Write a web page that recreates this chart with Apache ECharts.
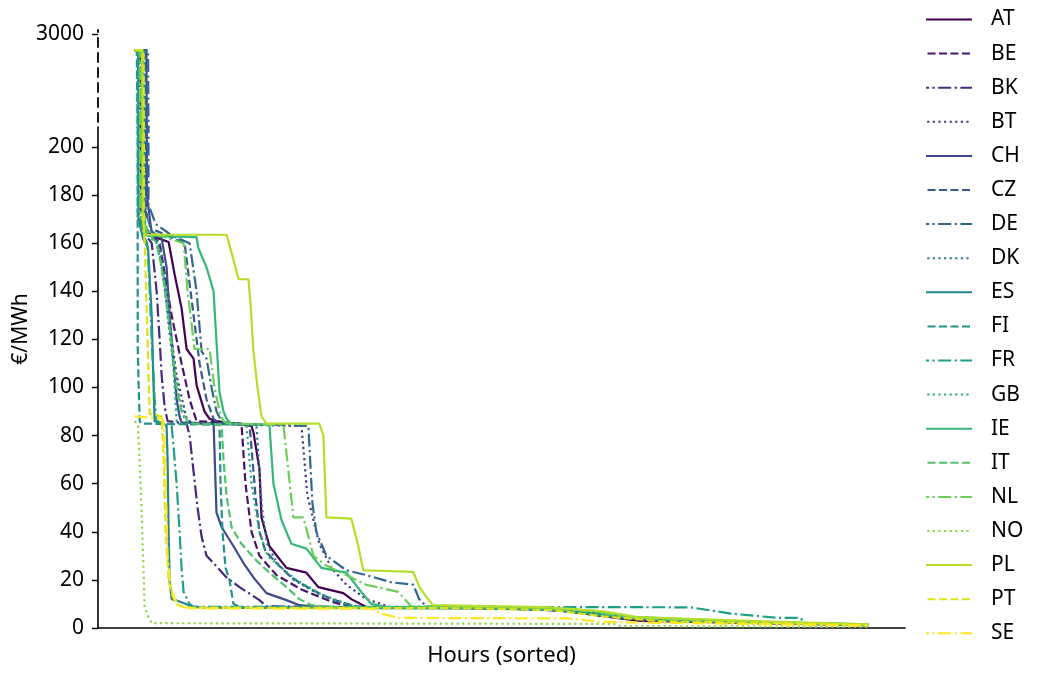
<!DOCTYPE html>
<html>
<head>
<meta charset="utf-8">
<script src="https://cdn.jsdelivr.net/npm/echarts@6/dist/echarts.min.js"></script>
<style>html,body{margin:0;padding:0;background:#fff}#c{width:1037px;height:677px}</style>
</head>
<body>
<div id="c"></div>
<script>
// ---- data: [hour (sorted rank), price €/MWh] ----
const countries = ['AT','BE','BK','BT','CH','CZ','DE','DK','ES','FI','FR','GB','IE','IT','NL','NO','PL','PT','SE'];
const AT = [[0,2550],[95,2550],[100,178],[119,167],[203,163],[405,160.5],[477,147],[560,133],[620,116],[703,112],[739,101],[799,94],[834,90],[894,87],[977,86],[1395,84],[1420,81],[1490,66],[1514,46],[1609,34],[1812,25],[2050,23],[2193,17],[2491,14.5],[2587,12],[2765,8.7],[4374,8.3],[5090,7.2],[5700,4.5],[6000,3],[7000,2.4],[8760,1.2]];
const BE = [[0,2550],[70,2550],[75,172],[140,165],[298,160],[441,130],[560,110],[656,95],[739,86],[1275,85],[1323,60],[1395,40],[1490,30],[1693,22],[1991,16],[2348,11],[2587,8.6],[4500,8.4],[5200,7.0],[5750,4.2],[6500,2.8],[8760,1.3]];
const BK = [[0,2550],[50,2550],[55,170],[140,163],[203,160],[262,140],[298,120],[322,105],[358,92],[393,86],[620,85],[656,80],[703,65],[751,50],[799,38],[858,30],[942,27],[1097,21],[1252,17],[1490,11.6],[1573,9],[4200,8.2],[5000,7.5],[5600,5.2],[6200,3.2],[8760,1.4]];
const BT = [[0,2550],[110,2550],[115,175],[200,165],[286,160],[381,135],[501,105],[620,87],[700,85],[1991,84],[2014,75],[2062,55],[2205,35],[2348,25],[2527,18],[2765,12],[3063,8.6],[4600,8.4],[5300,6.8],[5800,4.0],[7000,2.2],[8760,1.1]];
const CH = [[0,2550],[140,2550],[145,180],[200,165],[322,162],[381,150],[417,130],[465,110],[501,95],[536,88],[560,85.5],[942,85],[977,48],[1037,42],[1180,34],[1299,27],[1418,21],[1573,14.5],[1812,11.6],[1967,9.5],[2229,8.6],[4300,8.3],[5100,7.3],[5700,4.8],[6300,3.0],[8760,1.2]];
const CZ = [[0,2550],[130,2550],[135,172],[200,166],[400,163],[596,160],[703,130],[775,110],[858,95],[942,87],[1000,85],[1371,84.5],[1395,75],[1442,55],[1490,40],[1561,32],[1693,27],[1871,21],[2110,16],[2348,12],[2646,9],[2825,8.6],[4700,8.5],[5400,7.0],[5900,4.3],[7200,2.6],[8760,1.3]];
const DE = [[0,2550],[160,2550],[165,176],[250,168],[450,163],[656,160],[739,140],[799,115],[858,112],[918,100],[977,90],[1037,86],[1100,85],[2074,84],[2122,52],[2169,40],[2289,30],[2527,24],[2765,22],[3063,19],[3326,18],[3397,12],[3481,9],[4800,8.5],[5500,6.5],[5900,4.0],[7500,2.4],[8760,1.0]];
const DK = [[0,2550],[120,2550],[125,175],[200,165],[298,160],[346,150],[393,130],[441,115],[489,105],[536,95],[596,87],[679,85],[1454,84.5],[1480,70],[1520,50],[1580,35],[1700,27],[1900,20],[2200,14],[2500,10],[2700,8.6],[4400,8.4],[5300,7.2],[5850,4.6],[7000,2.8],[8760,1.4]];
const ES = [[0,2550],[40,2550],[45,170],[100,162],[160,158],[203,130],[226,100],[238,86],[322,85],[381,84],[393,70],[405,40],[417,20],[441,12],[536,11],[679,9],[799,8.5],[4000,8.2],[5000,7.6],[5600,5.5],[6500,3.2],[8760,1.5]];
const FI = [[0,2550],[25,2550],[36,117],[48,100],[60,86],[80,85],[1013,84.5],[1025,60],[1049,40],[1085,25],[1132,20],[1180,10],[1275,8.6],[4100,8.3],[5000,7.6],[5650,5.0],[6400,3.0],[8760,1.3]];
const FR = [[0,2550],[75,2550],[80,165],[150,160],[167,150],[203,120],[238,95],[262,86],[441,84],[465,75],[501,60],[536,40],[560,25],[584,15],[656,10],[703,8.8],[5209,8.7],[6639,8.6],[7116,6],[7676,4.2],[7950,4.2],[8000,2],[8760,1.5]];
const GB = [[0,2550],[30,2550],[35,170],[100,165],[262,160],[381,140],[441,120],[477,100],[501,86],[560,85],[1335,84.5],[1395,60],[1490,40],[1585,30],[1752,25],[1931,20],[2229,14],[2527,10],[2706,8.6],[4500,8.4],[5300,7.0],[5800,4.4],[7000,2.6],[8760,1.2]];
const IE = [[0,2550],[100,2550],[105,170],[150,163],[739,162.5],[760,158],[858,150],[942,140],[965,126],[1013,98],[1061,90],[1097,87],[1150,85],[1609,84.5],[1657,60],[1752,45],[1871,35],[2050,33],[2229,25],[2527,23],[2682,16],[2825,10],[3004,8.7],[4900,8.6],[5500,7.0],[5950,4.5],[7400,2.6],[8760,1.4]];
const IT = [[0,2550],[85,2550],[90,175],[150,165],[262,160],[322,150],[381,135],[441,118],[501,100],[560,90],[632,86],[700,85],[1037,84.5],[1061,70],[1097,55],[1156,42],[1275,35],[1454,28],[1609,23],[1812,17],[1967,12],[2110,9.5],[2348,8.7],[4600,8.5],[5400,7.2],[5900,4.6],[7200,2.7],[8760,1.3]];
const NL = [[0,2550],[60,2550],[65,172],[150,165],[400,162],[584,160],[632,140],[715,116],[894,116],[953,100],[1013,90],[1061,86],[1120,85],[1776,84.5],[1895,46],[2014,46],[2134,30],[2289,26],[2527,22],[2765,18],[3147,15],[3302,9],[4800,8.6],[5500,6.8],[5950,4.2],[7300,2.5],[8760,1.2]];
const NO = [[0,86],[40,84],[70,60],[100,30],[119,9],[160,5],[203,2],[5720,1.7],[5800,0.8],[8760,0.5]];
const PL = [[0,2550],[90,2550],[95,170],[120,163.5],[1097,163.5],[1150,157],[1240,145],[1359,145],[1383,135],[1418,115],[1466,100],[1514,88],[1573,85],[2205,85],[2253,80],[2289,46],[2587,45.5],[2670,34],[2730,24],[3326,23.3],[3400,17],[3481,13],[3560,9.5],[4900,8.7],[5600,6.9],[6000,4.5],[7500,2.8],[8760,1.5]];
const PT = [[0,2550],[105,2550],[110,165],[120,160],[179,89],[322,88],[346,70],[370,40],[405,20],[441,14],[501,10],[596,8.5],[4000,8.2],[5000,7.4],[5600,4.8],[6300,2.8],[8760,1.3]];
const SE = [[0,88],[322,87],[346,86],[370,60],[393,30],[429,17],[477,12],[536,9],[679,8.2],[2825,8],[2944,6],[3147,4.2],[5173,4.0],[5567,2.5],[8760,1.0]];
const seriesData = {AT,BE,BK,BT,CH,CZ,DE,DK,ES,FI,FR,GB,IE,IT,NL,NO,PL,PT,SE};
const lowerTicks = [0,20,40,60,80,100,120,140,160,180,200];
const upperTicks = [3000];

// ---- styling ----
const colors = ['#440154','#471567','#482878','#443983','#3e4a89','#38598c','#31688e','#2b758e','#26828e','#21918c','#1f9e89','#25ab82','#35b779','#4ec36b','#6ccd5a','#8fd744','#b5de2b','#dde318','#fde725'];
const LW = 2.2;
const dashes = ['solid', [8, 3.5], [13, 3.5, 2.2, 3.5], [2.2, 3.4]];
const FONT = 'Noto Sans';
const FS = 21;
const LOWER_MAX = 208.3;   // top of the lower panel
const UPPER_MIN = 400;     // bottom of the upper (broken) panel
const UPPER_MAX = 3111.8;

const series = [];
[0,1].forEach(g => {
  countries.forEach((c, i) => {
    series.push({
      name: c, type: 'line', xAxisIndex: g, yAxisIndex: g,
      data: seriesData[c], showSymbol: false, symbol: 'none',
      clip: true, animation: false, silent: true,
      lineStyle: {color: colors[i], width: LW, type: dashes[i % 4]},
      itemStyle: {color: colors[i]},
      emphasis: {disabled: true}
    });
  });
});

const chart = echarts.init(document.getElementById('c'), null, {renderer: 'canvas'});
chart.setOption({
  animation: false,
  backgroundColor: '#fff',
  textStyle: {fontFamily: FONT},
  grid: [
    {left: 98, width: 807, top: 30, height: 97, containLabel: false},
    {left: 98, width: 807, top: 127, height: 501, containLabel: false}
  ],
  xAxis: [
    {gridIndex: 0, type: 'value', min: -438, max: 9198, show: false},
    {gridIndex: 1, type: 'value', min: -438, max: 9198,
     axisLine: {show: true, onZero: false, lineStyle: {color: '#000', width: 1.6}},
     axisTick: {show: false}, axisLabel: {show: false}, splitLine: {show: false},
     name: 'Hours (sorted)', nameLocation: 'middle', nameGap: 17,
     nameTextStyle: {color: '#000', fontSize: 22, fontFamily: FONT}}
  ],
  yAxis: [
    {gridIndex: 0, type: 'value', min: UPPER_MIN, max: UPPER_MAX,
     axisLine: {show: true, onZero: false, lineStyle: {color: '#000', width: 1.8, type: [9, 6], dashOffset: 10}},
     axisTick: {show: true, length: 6, customValues: upperTicks, lineStyle: {color: '#000', width: 1.4}},
     axisLabel: {customValues: upperTicks, color: '#000', fontSize: FS, fontFamily: FONT, margin: 14, formatter: v => String(v)},
     splitLine: {show: false}},
    {gridIndex: 1, type: 'value', min: 0, max: LOWER_MAX,
     axisLine: {show: true, onZero: false, lineStyle: {color: '#000', width: 1.6}},
     axisTick: {show: true, length: 6, customValues: lowerTicks, lineStyle: {color: '#000', width: 1.4}},
     axisLabel: {customValues: lowerTicks, color: '#000', fontSize: FS, fontFamily: FONT, margin: 14, formatter: v => String(v)},
     splitLine: {show: false}}
  ],
  legend: {
    data: countries, orient: 'vertical', left: 925, top: 9, padding: 0,
    itemWidth: 46, itemHeight: 14, itemGap: 13.1,
    itemStyle: {opacity: 0},
    textStyle: {color: '#000', fontSize: FS, fontFamily: FONT, padding: [0, 0, 0, 14]},
    selectedMode: false
  },
  graphic: [{
    type: 'text', x: 21, y: 329, rotation: Math.PI / 2,
    style: {text: '€/MWh', fill: '#000', font: FS + 'px "' + FONT + '"', align: 'center', verticalAlign: 'middle'}
  }],
  series: series
});
</script>
</body>
</html>
